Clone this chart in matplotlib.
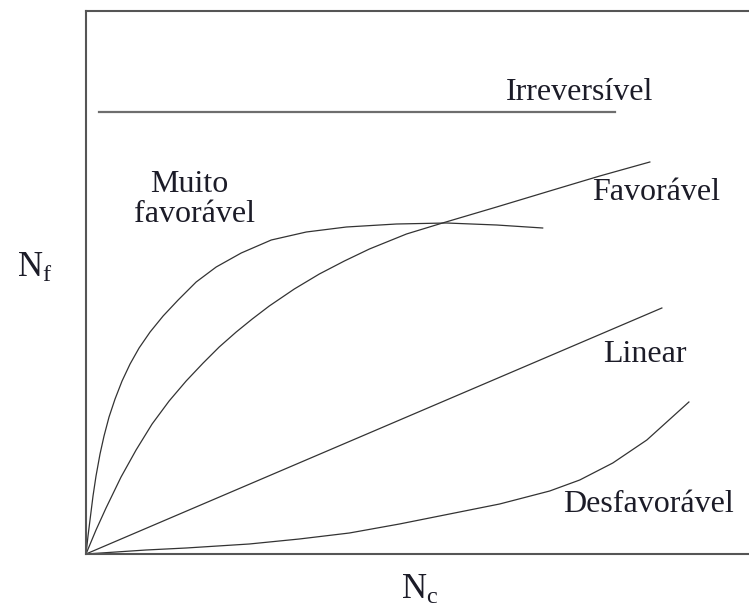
import matplotlib
matplotlib.use("Agg")
import matplotlib.pyplot as plt

# Isotermas de adsorção (esquema)
x_irrev = [13, 528]
y_irrev = [442, 442]

x_muito = [0, 2, 4, 7, 10, 14, 18, 23, 29, 36, 44, 53, 64, 77, 92, 110, 130, 155, 185,
           220, 260, 310, 360, 410, 456]
y_muito = [0, 18, 34, 58, 78, 100, 118, 137, 155, 173, 190, 206, 222, 238, 254, 272, 287,
           301, 314, 322, 327, 330, 331, 329, 326]

x_fav = [0, 10, 20, 35, 50, 66, 83, 100, 117, 133, 150, 166, 183, 208, 233, 258, 283,
         320, 356, 410, 463, 513, 563]
y_fav = [0, 24, 46, 77, 104, 130, 153, 173, 191, 207, 222, 235, 248, 265, 280, 293, 305,
         320, 331, 347, 363, 378, 392]

x_lin = [0, 575]
y_lin = [0, 246]

x_desf = [0, 60, 100, 163, 213, 263, 313, 363, 413, 463, 493, 526, 560, 602]
y_desf = [0, 4, 6, 10, 15, 21, 30, 40, 50, 63, 74, 91, 114, 152]

plt.rcParams['font.family'] = ['Liberation Serif', 'DejaVu Serif']
plt.rcParams['mathtext.fontset'] = 'custom'
plt.rcParams['mathtext.rm'] = 'Liberation Serif'

fig = plt.figure(figsize=(7.49, 6.06), dpi=100)
ax = fig.add_axes([86/749, 52/606, 674/749, 543/606])

lc = '#333333'
ax.plot(x_irrev, y_irrev, color='#6e6e6e', lw=1.6)
ax.plot(x_muito, y_muito, color=lc, lw=0.9)
ax.plot(x_fav, y_fav, color=lc, lw=0.9)
ax.plot(x_lin, y_lin, color=lc, lw=0.9)
ax.plot(x_desf, y_desf, color=lc, lw=0.9)

ax.set_xlim(0, 673)
ax.set_ylim(0, 543)
ax.set_xticks([])
ax.set_yticks([])
for s in ax.spines.values():
    s.set_color('#555555')
    s.set_linewidth(1.5)

tc = '#1c1c28'
fs = 23
ax.text(493, 461, 'Irreversível', fontsize=fs, color=tc, ha='center', va='center')
ax.text(103, 369, 'Muito', fontsize=fs, color=tc, ha='center', va='center')
ax.text(108, 339, 'favorável', fontsize=fs, color=tc, ha='center', va='center')
ax.text(569, 361, 'Favorável', fontsize=fs, color=tc, ha='center', va='center')
ax.text(558, 199, 'Linear', fontsize=fs, color=tc, ha='center', va='center')
ax.text(562, 50, 'Desfavorável', fontsize=fs, color=tc, ha='center', va='center')

fig.text(35/749, 1 - 268/606, r'$\mathrm{N_f}$', fontsize=25, color=tc, ha='center', va='center')
fig.text(420/749, 1 - 590/606, r'$\mathrm{N_c}$', fontsize=25, color=tc, ha='center', va='center')

fig.savefig('out.png', dpi=100)
